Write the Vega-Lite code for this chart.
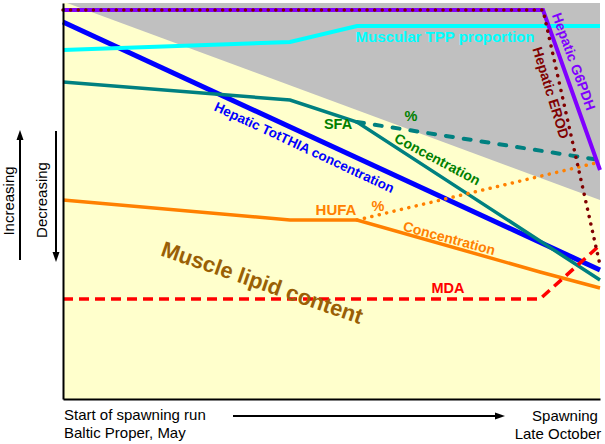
{
  "$schema": "https://vega.github.io/schema/vega-lite/v6.json",
  "width": 537,
  "height": 396,
  "autosize": {"type": "none"},
  "padding": {"left": 63, "top": 3, "right": 5, "bottom": 45},
  "background": "white",
  "config": {"view": {"fill": "#FFFFCC", "stroke": null}, "font": "Liberation Sans"},
  "encoding": {
    "x": {"field": "x", "type": "quantitative", "scale": {"domain": [0, 537], "nice": false, "zero": false},
          "axis": {"title": null, "labels": false, "ticks": false, "grid": false, "domainColor": "#000000", "domainWidth": 2, "zindex": 1}},
    "y": {"field": "y", "type": "quantitative", "scale": {"domain": [0, 396], "nice": false, "zero": false},
          "axis": {"title": null, "labels": false, "ticks": false, "grid": false, "domainColor": "#000000", "domainWidth": 2, "zindex": 1}}
  },
  "layer": [
    {
      "data": {"values": [{"x": 4, "y": 396, "y2": 396}, {"x": 537, "y": 199, "y2": 396}]},
      "mark": {"type": "area", "color": "#C0C0C0"},
      "encoding": {"y2": {"field": "y2"}}
    },
    {
      "data": {"values": [{"x": 0, "y": 377}, {"x": 537, "y": 129}]},
      "mark": {"type": "line", "color": "#0000FF", "strokeWidth": 5}
    },
    {
      "data": {"values": [{"x": 0, "y": 317}, {"x": 227, "y": 299}, {"x": 294, "y": 277}, {"x": 537, "y": 119}]},
      "mark": {"type": "line", "color": "#008080", "strokeWidth": 3.5}
    },
    {
      "data": {"values": [{"x": 294, "y": 277}, {"x": 537, "y": 239}]},
      "mark": {"type": "line", "color": "#008080", "strokeWidth": 4, "strokeDash": [7, 11], "strokeCap": "round"}
    },
    {
      "data": {"values": [{"x": 0, "y": 199}, {"x": 227, "y": 179}, {"x": 294, "y": 179}, {"x": 477, "y": 127}, {"x": 537, "y": 111}]},
      "mark": {"type": "line", "color": "#FF8000", "strokeWidth": 3.5}
    },
    {
      "data": {"values": [{"x": 294, "y": 179}, {"x": 537, "y": 237}]},
      "mark": {"type": "line", "color": "#FF8000", "strokeWidth": 3.5, "strokeDash": [0.1, 7.5], "strokeCap": "round"}
    },
    {
      "data": {"values": [{"x": 0, "y": 349}, {"x": 227, "y": 357}, {"x": 294, "y": 373}, {"x": 537, "y": 373}]},
      "mark": {"type": "line", "color": "#00FFFF", "strokeWidth": 4}
    },
    {
      "data": {"values": [{"x": 0, "y": 100}, {"x": 477, "y": 100}, {"x": 537, "y": 154}]},
      "mark": {"type": "line", "color": "#FF0000", "strokeWidth": 3.5, "strokeDash": [10, 6]}
    },
    {
      "data": {"values": [{"x": 0, "y": 389}, {"x": 480, "y": 389}, {"x": 537, "y": 229}]},
      "mark": {"type": "line", "color": "#8000FF", "strokeWidth": 4}
    },
    {
      "data": {"values": [{"x": 0, "y": 389}, {"x": 480, "y": 389}, {"x": 537, "y": 134}]},
      "mark": {"type": "line", "color": "#800000", "strokeWidth": 3.5, "strokeDash": [0.1, 7.5], "strokeCap": "round"}
    },
    {
      "data": {"values": [
        {"t": "Muscular TPP proportion", "x": 382, "y": 362, "a": 0, "c": "#00FFFF", "s": 15},
        {"t": "Hepatic TotTHIA concentration", "x": 241, "y": 251, "a": 25, "c": "#0000FF", "s": 13.5},
        {"t": "SFA", "x": 275, "y": 274, "a": 0, "c": "#008000", "s": 14.5},
        {"t": "%", "x": 348, "y": 282, "a": 0, "c": "#008000", "s": 14.5},
        {"t": "Concentration", "x": 374, "y": 239, "a": 28, "c": "#008000", "s": 14},
        {"t": "HUFA", "x": 273, "y": 189, "a": 0, "c": "#FF8000", "s": 15},
        {"t": "%", "x": 315, "y": 192, "a": 0, "c": "#FF8000", "s": 14.5},
        {"t": "Concentration", "x": 386, "y": 160, "a": 15, "c": "#FF8000", "s": 14},
        {"t": "MDA", "x": 385, "y": 110, "a": 0, "c": "#FF0000", "s": 14.5},
        {"t": "Muscle lipid content", "x": 199, "y": 116, "a": 19, "c": "#9A5F05", "s": 22},
        {"t": "Hepatic G6PDH", "x": 510, "y": 337, "a": 70, "c": "#8000FF", "s": 14},
        {"t": "Hepatic EROD", "x": 487, "y": 306, "a": 73, "c": "#800000", "s": 14}
      ]},
      "mark": {"type": "text", "fontWeight": "bold", "align": "center", "baseline": "middle"},
      "encoding": {
        "text": {"field": "t"},
        "angle": {"field": "a", "type": "quantitative", "scale": null},
        "color": {"field": "c", "type": "nominal", "scale": null},
        "size": {"field": "s", "type": "quantitative", "scale": null}
      }
    },
    {
      "data": {"values": [
        {"t": "Increasing", "x": -54, "y": 198, "a": 270},
        {"t": "Decreasing", "x": -21, "y": 199, "a": 270},
        {"t": "Spawning", "x": 502, "y": -17, "a": 0},
        {"t": "Late October", "x": 495, "y": -35, "a": 0}
      ]},
      "mark": {"type": "text", "align": "center", "baseline": "middle", "fontSize": 15, "color": "#000000"},
      "encoding": {
        "text": {"field": "t"},
        "angle": {"field": "a", "type": "quantitative", "scale": null}
      }
    },
    {
      "data": {"values": [
        {"t": "Start of spawning run", "x": 1, "y": -16},
        {"t": "Baltic Proper, May", "x": 1, "y": -34}
      ]},
      "mark": {"type": "text", "align": "left", "baseline": "middle", "fontSize": 15, "color": "#000000"},
      "encoding": {"text": {"field": "t"}}
    },
    {
      "data": {"values": [
        {"x": -43, "y": 139, "x2": -43, "y2": 264},
        {"x": -7, "y": 268, "x2": -7, "y2": 142},
        {"x": 170, "y": -17, "x2": 437, "y2": -17}
      ]},
      "mark": {"type": "rule", "color": "#000000", "strokeWidth": 2},
      "encoding": {"x2": {"field": "x2"}, "y2": {"field": "y2"}}
    },
    {
      "data": {"values": [
        {"x": -43, "y": 264, "sh": "M0,-1L0.7,1L-0.7,1Z"},
        {"x": -7, "y": 142, "sh": "M0,1L0.7,-1L-0.7,-1Z"},
        {"x": 437, "y": -17, "sh": "M1,0L-1,0.7L-1,-0.7Z"}
      ]},
      "mark": {"type": "point", "filled": true, "color": "#000000", "size": 100, "opacity": 1},
      "encoding": {"shape": {"field": "sh", "type": "nominal", "scale": null}}
    }
  ]
}
